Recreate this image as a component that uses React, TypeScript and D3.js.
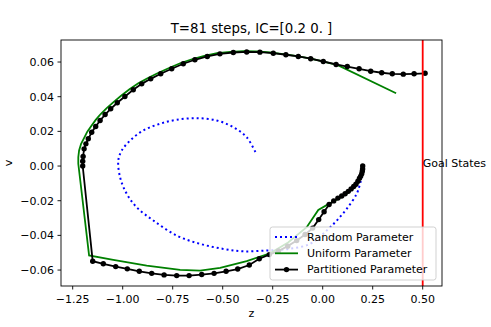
import * as d3 from 'd3'

const title = 'T=81 steps, IC=[0.2 0. ]'
const xTicks = [-1.25, -1.0, -0.75, -0.5, -0.25, 0.0, 0.25, 0.5]
const yTicks = [-0.06, -0.04, -0.02, 0.0, 0.02, 0.04, 0.06]
const goalZ = 0.5
const goalLabel = 'Goal States'
const legendLabels = ['Random Parameter', 'Uniform Parameter', 'Partitioned Parameter']

// [z, v] pairs
const randomParam: [number, number][] = [
  [0.2, 0.0], [0.195, -0.006], [0.185, -0.011], [0.17, -0.016], [0.12, -0.0247],
  [0.07, -0.0315], [0.02, -0.0372], [-0.063, -0.0449], [-0.17, -0.0478], [-0.28, -0.0487],
  [-0.397, -0.0492], [-0.497, -0.0478], [-0.613, -0.0449], [-0.73, -0.0401], [-0.847, -0.0314],
  [-0.93, -0.0238], [-0.98, -0.016], [-1.013, -0.0065], [-1.022, 0.0032], [-1.005, 0.0089],
  [-0.963, 0.0147], [-0.897, 0.0205], [-0.813, 0.0244], [-0.73, 0.0267], [-0.63, 0.0276],
  [-0.53, 0.0263], [-0.447, 0.0224], [-0.38, 0.0166], [-0.33, 0.0065],
]

const uniformParam: [number, number][] = [
  [0.2, 0.0], [0.19, -0.006], [0.17, -0.011], [0.12, -0.016], [0.07, -0.0195],
  [0.033, -0.0217], [-0.022, -0.0253], [-0.08, -0.0353], [-0.173, -0.0441], [-0.263, -0.0503],
  [-0.38, -0.0549], [-0.513, -0.0587], [-0.613, -0.0603], [-0.713, -0.0599], [-0.88, -0.0574],
  [-1.047, -0.0541], [-1.168, -0.0516],
  [-1.222, 0.0013], [-1.222, 0.0051], [-1.218, 0.009], [-1.208, 0.0128], [-1.194, 0.016],
  [-1.177, 0.0198], [-1.157, 0.0231], [-1.135, 0.0266], [-1.11, 0.03], [-1.08, 0.0334],
  [-1.046, 0.0369], [-1.008, 0.0405], [-0.966, 0.0443], [-0.922, 0.0477], [-0.876, 0.0506],
  [-0.826, 0.0535], [-0.771, 0.0564], [-0.713, 0.0593], [-0.654, 0.0616], [-0.592, 0.0636],
  [-0.528, 0.0651], [-0.462, 0.0659], [-0.396, 0.0662], [-0.33, 0.0661], [-0.263, 0.0655],
  [-0.198, 0.0646], [-0.135, 0.0636], [-0.072, 0.0623], [-0.01, 0.0607], [0.05, 0.059],
  [0.07, 0.0585], [0.367, 0.042],
]

const partitionedParam: [number, number][] = [
  [0.2, 0.0], [0.1995, -0.0017], [0.198, -0.003], [0.195, -0.0045], [0.19, -0.0058],
  [0.184, -0.007], [0.176, -0.0088], [0.166, -0.0105], [0.155, -0.0118], [0.142, -0.0132],
  [0.128, -0.0146], [0.112, -0.016], [0.095, -0.0173], [0.076, -0.0185], [0.055, -0.0201],
  [0.032, -0.0222], [0.007, -0.0264], [-0.02, -0.0309], [-0.05, -0.0358],
  [-0.088, -0.0395], [-0.13, -0.043], [-0.175, -0.0462], [-0.221, -0.049],
  [-0.267, -0.0511], [-0.317, -0.0535], [-0.367, -0.0571], [-0.425, -0.0594], [-0.483, -0.0607],
  [-0.543, -0.0619], [-0.605, -0.0626], [-0.668, -0.0632], [-0.73, -0.0632], [-0.793, -0.0628],
  [-0.855, -0.0619], [-0.917, -0.0607], [-0.977, -0.0593], [-1.035, -0.058], [-1.097, -0.0564],
  [-1.15, -0.0549],
  [-1.2, 0.0], [-1.2, 0.0028], [-1.198, 0.0055], [-1.193, 0.0099], [-1.184, 0.0128],
  [-1.172, 0.0157], [-1.155, 0.0195], [-1.135, 0.0228], [-1.113, 0.0263], [-1.088, 0.0297],
  [-1.06, 0.033], [-1.027, 0.0365], [-0.989, 0.0401], [-0.947, 0.044], [-0.905, 0.0474],
  [-0.86, 0.0503], [-0.81, 0.0532], [-0.755, 0.0561], [-0.697, 0.059], [-0.639, 0.0613],
  [-0.577, 0.0632], [-0.514, 0.0647], [-0.447, 0.0655], [-0.38, 0.0658], [-0.314, 0.0657],
  [-0.247, 0.0651], [-0.184, 0.0642], [-0.122, 0.0632], [-0.06, 0.0619], [0.003, 0.0603],
  [0.067, 0.0586], [0.123, 0.0574], [0.182, 0.0561], [0.24, 0.0547], [0.295, 0.0538],
  [0.348, 0.0532], [0.403, 0.053], [0.457, 0.0532], [0.512, 0.0535],
]

const W = 491
const H = 327
const margin = { top: 40, right: 49, bottom: 41, left: 61 }
const font = 'DejaVu Sans, sans-serif'

function App() {
  const width = W - margin.left - margin.right
  const height = H - margin.top - margin.bottom

  const x = d3.scaleLinear().domain([-1.3085, 0.5965]).range([0, width])
  const y = d3.scaleLinear().domain([-0.0692, 0.0727]).range([height, 0])
  const fmt = d3.format('.2f')

  const line = d3
    .line<[number, number]>()
    .x(d => x(d[0]))
    .y(d => y(d[1]))
  const smooth = d3
    .line<[number, number]>()
    .x(d => x(d[0]))
    .y(d => y(d[1]))
    .curve(d3.curveCatmullRom.alpha(0.5))

  const lx = 209
  const ly = 187
  const styles = [
    { stroke: 'blue', dash: '2 3', marker: false },
    { stroke: 'green', dash: undefined, marker: false },
    { stroke: 'black', dash: undefined, marker: true },
  ]

  return (
    <svg width={W} height={H} style={{ position: 'absolute', left: 0, top: 0, fontFamily: font }}>
      <rect width={W} height={H} fill="white" />
      <text x={margin.left + width / 2} y={33} textAnchor="middle" fontSize={13.3}>{title}</text>
      <g transform={`translate(${margin.left}, ${margin.top})`}>
        <defs>
          <clipPath id="plot-clip">
            <rect width={width} height={height} />
          </clipPath>
        </defs>
        <g clipPath="url(#plot-clip)">
          <path d={smooth(randomParam) as string} fill="none" stroke="blue" strokeWidth={2} strokeDasharray="2 3" />
          <path d={line(uniformParam) as string} fill="none" stroke="green" strokeWidth={1.8} />
          <path d={line(partitionedParam) as string} fill="none" stroke="black" strokeWidth={1.8} />
          {partitionedParam.map((d, i) => (
            <circle key={i} cx={x(d[0])} cy={y(d[1])} r={2.7} fill="black" />
          ))}
          <line x1={x(goalZ)} x2={x(goalZ)} y1={0} y2={height} stroke="red" strokeWidth={1.8} />
        </g>
        <text x={x(goalZ)} y={y(0) + 0.5} fontSize={11}>{goalLabel}</text>

        <rect x={0} y={0} width={width} height={height} fill="none" stroke="black" strokeWidth={0.9} />

        {xTicks.map(t => (
          <g key={t} transform={`translate(${x(t)}, ${height})`}>
            <line y2={3.5} stroke="black" strokeWidth={0.9} />
            <text y={17} textAnchor="middle" fontSize={11}>{fmt(t)}</text>
          </g>
        ))}
        {yTicks.map(t => (
          <g key={t} transform={`translate(0, ${y(t)})`}>
            <line x2={-3.5} stroke="black" strokeWidth={0.9} />
            <text x={-7} dy="0.35em" textAnchor="end" fontSize={11}>{fmt(t)}</text>
          </g>
        ))}
        <text x={width / 2} y={height + 31} textAnchor="middle" fontSize={11}>z</text>
        <text transform={`translate(${8 - margin.left}, ${height / 2}) rotate(-90)`} dy="0.35em" textAnchor="middle" fontSize={11}>v</text>

        <g transform={`translate(${lx}, ${ly})`}>
          <rect width={166} height={53} rx={2.5} fill="white" fillOpacity={0.8} stroke="#cccccc" strokeWidth={0.9} />
          {legendLabels.map((label, i) => (
            <g key={label} transform={`translate(0, ${10 + i * 16.3})`}>
              <line x1={5} x2={28} stroke={styles[i].stroke} strokeWidth={i === 0 ? 2 : 1.8} strokeDasharray={styles[i].dash} />
              {styles[i].marker && <circle cx={16.5} r={2.7} fill="black" />}
              <text x={37} dy="0.35em" fontSize={11}>{label}</text>
            </g>
          ))}
        </g>
      </g>
    </svg>
  )
}

export default App
